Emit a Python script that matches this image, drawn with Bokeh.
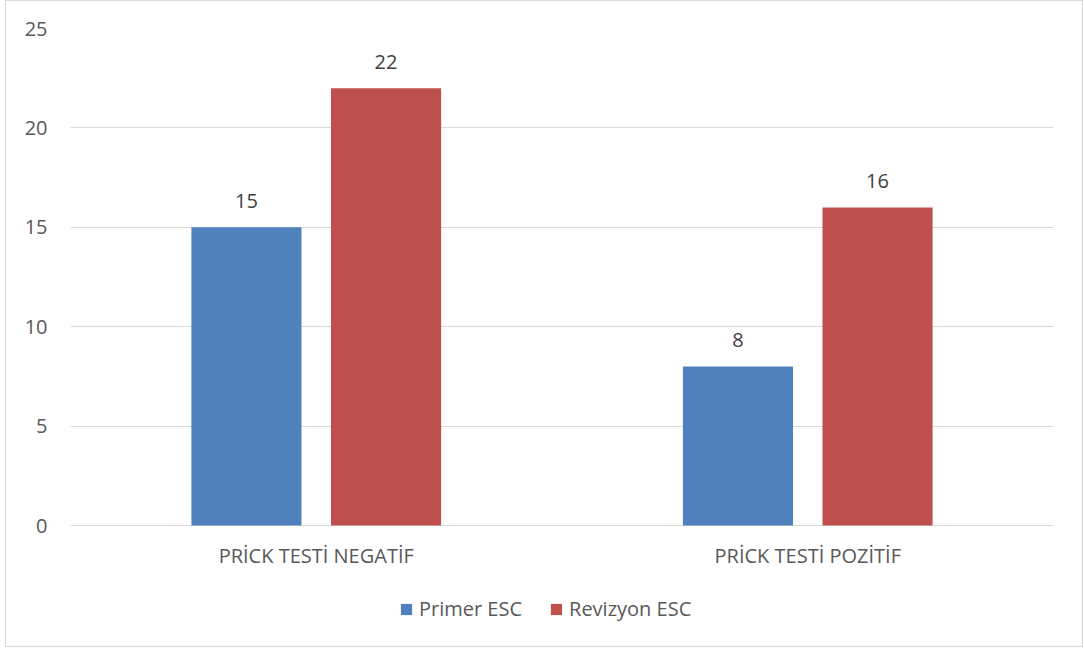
from bokeh.plotting import figure
from bokeh.models import ColumnDataSource, FactorRange, Range1d, Legend, LegendItem, LabelSet, FixedTicker
from bokeh.core.properties import value
from bokeh.transform import dodge
from bokeh.embed import file_html
from bokeh.resources import INLINE

categories = ["PRİCK TESTİ NEGATİF", "PRİCK TESTİ POZİTİF"]
primer = [15, 8]
revizyon = [22, 16]
series_names = ["Primer ESC", "Revizyon ESC"]
y_ticks = [0, 5, 10, 15, 20, 25]

FONT = "Open Sans"
FS = "20px"
BLUE = "#4F81BD"
RED = "#C0504D"

src = ColumnDataSource(dict(cat=categories, primer=primer, revizyon=revizyon,
                            primer_lbl=[str(v) for v in primer],
                            revizyon_lbl=[str(v) for v in revizyon]))

# frame spans value 25 at top down to below 0, leaving room inside the frame
# for category labels and the legend (so nothing gets clipped)
FRAME_H = 605
PX_PER_UNIT = 497 / 25
p = figure(frame_width=983, frame_height=FRAME_H, x_range=FactorRange(*categories),
           y_range=Range1d(25 - FRAME_H / PX_PER_UNIT, 25),
           output_backend="svg", toolbar_location=None,
           min_border_left=64, min_border_right=29, min_border_top=27, min_border_bottom=13)

b1 = p.vbar(x=dodge("cat", -0.142, range=p.x_range), top="primer", width=0.224, source=src,
            color=BLUE, line_color=None)
b2 = p.vbar(x=dodge("cat", 0.142, range=p.x_range), top="revizyon", width=0.224, source=src,
            color=RED, line_color=None)

for col, off in (("primer", -0.142), ("revizyon", 0.142)):
    lbl = LabelSet(x=dodge("cat", off, range=p.x_range), y=col, text=col + "_lbl", source=src,
                   text_align="center", text_baseline="bottom", y_offset=19,
                   text_font=value(FONT), text_font_size=FS, text_color="#404040")
    p.add_layout(lbl)

# category labels (x axis)
cat_lbl = LabelSet(x="cat", y=0, text="cat", source=src, text_align="center",
                   text_baseline="middle", y_offset=-30,
                   text_font=value(FONT), text_font_size=FS, text_color="#595959")
p.add_layout(cat_lbl)
p.xaxis.visible = False

p.outline_line_color = None
p.border_fill_color = "white"
p.xgrid.grid_line_color = None
p.ygrid.grid_line_color = "#D9D9D9"
p.ygrid.grid_line_width = 1
p.yaxis.ticker = FixedTicker(ticks=y_ticks)

ax = p.yaxis
ax.axis_line_color = None
ax.major_tick_line_color = None
ax.minor_tick_line_color = None
ax.major_label_text_font = FONT
ax.major_label_text_font_size = FS
ax.major_label_text_color = "#595959"
ax.major_label_standoff = 17

legend = Legend(items=[LegendItem(label=series_names[0], renderers=[b1]),
                       LegendItem(label=series_names[1], renderers=[b2])],
                orientation="horizontal", location=(329, 11),
                label_text_font=FONT, label_text_font_size=FS, label_text_color="#595959",
                glyph_width=14, glyph_height=14, spacing=27, label_standoff=6,
                border_line_color=None, background_fill_alpha=0, margin=0, padding=0)
p.add_layout(legend, "center")

p.styles = {"border": "1px solid #D9D9D9", "margin-left": "5px"}

open("out.html", "w").write(file_html(p, INLINE))
